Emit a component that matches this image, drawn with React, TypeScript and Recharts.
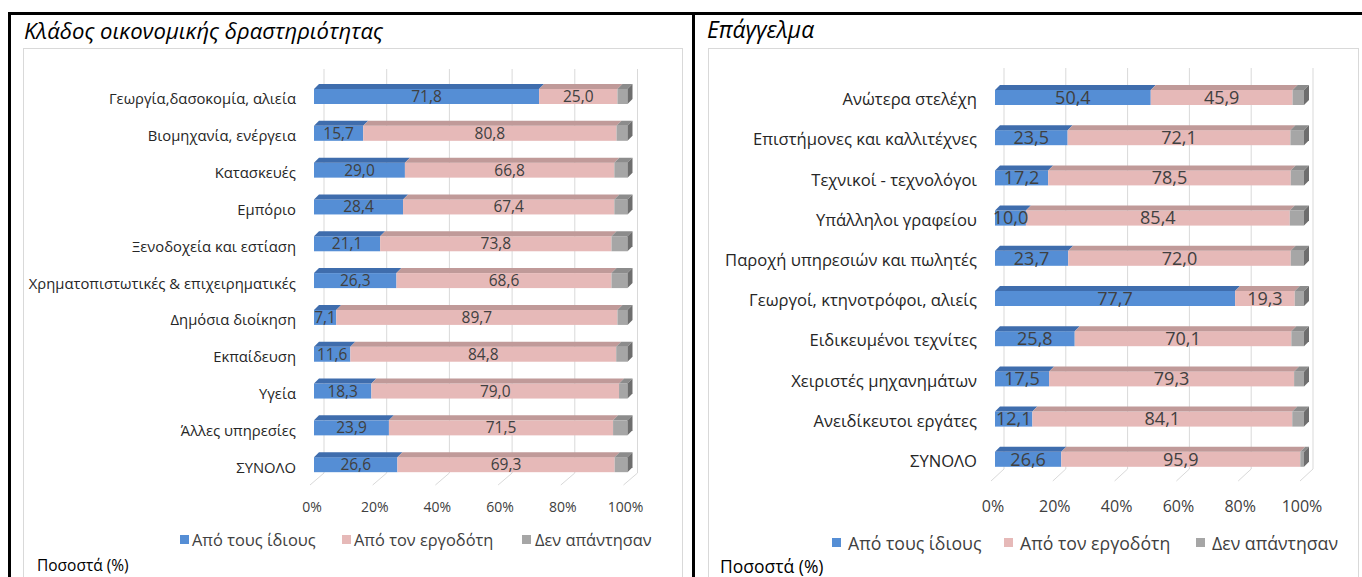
import { BarChart, Bar, XAxis, YAxis, CartesianGrid, LabelList } from "recharts";

const seriesNames = ["Από τους ίδιους", "Από τον εργοδότη", "Δεν απάντησαν"];
const seriesKeys = ["own", "emp", "none"];

const sectorCats = [
  "Γεωργία,δασοκομία, αλιεία",
  "Βιομηχανία, ενέργεια",
  "Κατασκευές",
  "Εμπόριο",
  "Ξενοδοχεία και εστίαση",
  "Χρηματοπιστωτικές & επιχειρηματικές",
  "Δημόσια διοίκηση",
  "Εκπαίδευση",
  "Υγεία",
  "Άλλες υπηρεσίες",
  "ΣΥΝΟΛΟ",
];
const sectorOwn = [71.8, 15.7, 29.0, 28.4, 21.1, 26.3, 7.1, 11.6, 18.3, 23.9, 26.6];
const sectorEmp = [25.0, 80.8, 66.8, 67.4, 73.8, 68.6, 89.7, 84.8, 79.0, 71.5, 69.3];
const sectorNone = [3.2, 3.5, 4.2, 4.2, 5.1, 5.1, 3.2, 3.6, 2.7, 4.6, 4.1];

const jobCats = [
  "Ανώτερα στελέχη",
  "Επιστήμονες και καλλιτέχνες",
  "Τεχνικοί - τεχνολόγοι",
  "Υπάλληλοι γραφείου",
  "Παροχή υπηρεσιών και πωλητές",
  "Γεωργοί, κτηνοτρόφοι, αλιείς",
  "Ειδικευμένοι τεχνίτες",
  "Χειριστές μηχανημάτων",
  "Ανειδίκευτοι εργάτες",
  "ΣΥΝΟΛΟ",
];
const jobOwn = [50.4, 23.5, 17.2, 10.0, 23.7, 77.7, 25.8, 17.5, 12.1, 26.6];
const jobEmp = [45.9, 72.1, 78.5, 85.4, 72.0, 19.3, 70.1, 79.3, 84.1, 95.9];
const jobNone = [3.7, 4.4, 4.3, 4.6, 4.3, 3.0, 4.1, 3.2, 3.8, 1.5];

const xTicks = [0, 0.2, 0.4, 0.6, 0.8, 1];

const FRONT = ["#558ED5", "#E6B9B8", "#A6A6A6"];
const TOP = ["#3F6DAD", "#C09A99", "#8C8C8C"];
const SIDE = "#6E6E6E";
const FONT = "'Open Sans', 'Noto Sans', sans-serif";

const toRows = (cats: string[], own: number[], emp: number[], none: number[]) =>
  cats.map((name, i) => ({ name, own: own[i], emp: emp[i], none: none[i] }));

const fmt = (v: any) => Number(v).toFixed(1).replace(".", ",");

function shape3D(idx: number, last: boolean) {
  return (props: any) => {
    const { x, y, width, height } = props;
    if (!width || width <= 0) return <g />;
    const d = 5;
    return (
      <g>
        <rect x={x} y={y} width={width} height={height} fill={FRONT[idx]} />
        <polygon
          points={`${x},${y} ${x + d},${y - d} ${x + width + d},${y - d} ${x + width},${y}`}
          fill={TOP[idx]}
        />
        {last && (
          <polygon
            points={`${x + width},${y} ${x + width + d},${y - d} ${x + width + d},${y + height - d} ${x + width},${y + height}`}
            fill={SIDE}
          />
        )}
      </g>
    );
  };
}

type PanelProps = {
  rows: any[];
  left: number;
  width: number;
  yAxisWidth: number;
  top: number;
  right: number;
  bottom: number;
  catSize: number;
  labelSize: number;
  tickSize: number;
  tickDy: number;
  back: number;
};

function Panel(p: PanelProps) {
  const gridLine = (g: any) => (
    <g key={g.key}>
      <line x1={g.x1 + p.back} x2={g.x1 + p.back} y1={g.y1 - 9} y2={g.y2 - 10} stroke="#D9D9D9" />
      <line x1={g.x1 - 4} x2={g.x1 + p.back} y1={g.y2 + 2} y2={g.y2 - 10} stroke="#D9D9D9" />
    </g>
  );
  return (
    <div style={{ position: "absolute", left: p.left, top: 48 }}>
      <BarChart
        width={p.width}
        height={529}
        data={p.rows}
        layout="vertical"
        stackOffset="expand"
        barSize={15}
        margin={{ top: p.top, right: p.right, bottom: p.bottom, left: 0 }}
      >
        <CartesianGrid horizontal={false} vertical={gridLine} />
        <XAxis
          type="number"
          domain={[0, 1]}
          ticks={xTicks}
          axisLine={false}
          tickLine={false}
          tickSize={0}
          tickMargin={0}
          height={30}
          tick={(t: any) => (
            <text
              x={t.x - 2}
              y={t.y + p.tickDy}
              textAnchor="middle"
              fontSize={p.tickSize}
              fontFamily={FONT}
              fill="#404040"
            >
              {Math.round(t.payload.value * 100) + "%"}
            </text>
          )}
        />
        <YAxis
          type="category"
          dataKey="name"
          width={p.yAxisWidth}
          axisLine={false}
          tickLine={false}
          tickSize={0}
          tickMargin={0}
          interval={0}
          tick={(t: any) => (
            <text
              x={t.x - 18}
              y={t.y + 8}
              textAnchor="end"
              fontSize={p.catSize}
              fontFamily={FONT}
              fill="#262626"
            >
              {t.payload.value}
            </text>
          )}
        />
        {seriesKeys.map((k, i) => (
          <Bar
            key={k}
            dataKey={k}
            stackId="s"
            name={seriesNames[i]}
            fill={FRONT[i]}
            isAnimationActive={false}
            shape={shape3D(i, i === seriesKeys.length - 1)}
          >
            {i < 2 && (
              <LabelList
                dataKey={k}
                position="center"
                formatter={fmt}
                fill="#404040"
                fontSize={p.labelSize}
                fontFamily={FONT}
              />
            )}
          </Bar>
        ))}
      </BarChart>
    </div>
  );
}

function Legend({ xs, textXs, y, size }: { xs: number[]; textXs: number[]; y: number; size: number }) {
  return (
    <>
      {seriesNames.map((n, i) => (
        <div key={n}>
          <div
            style={{
              position: "absolute",
              left: xs[i],
              top: y - 5,
              width: 9,
              height: 9,
              background: FRONT[i],
            }}
          />
          <div
            style={{
              position: "absolute",
              left: textXs[i],
              top: y - size * 0.7,
              fontSize: size,
              lineHeight: `${size * 1.4}px`,
              fontFamily: FONT,
              color: "#404040",
              whiteSpace: "nowrap",
            }}
          >
            {n}
          </div>
        </div>
      ))}
    </>
  );
}

export default function App() {
  const txt = (left: number, centerY: number, size: number, s: string, italic = false) => (
    <div
      style={{
        position: "absolute",
        left,
        top: centerY - size * 0.7,
        fontSize: size,
        fontStyle: italic ? "italic" : "normal",
        fontFamily: FONT,
        color: "#000",
        whiteSpace: "nowrap",
        lineHeight: `${size * 1.4}px`,
      }}
    >
      {s}
    </div>
  );
  return (
    <div
      style={{
        position: "absolute",
        left: 0,
        top: 0,
        width: 1362,
        height: 577,
        overflow: "hidden",
        background: "#fff",
      }}
    >
      {/* frames */}
      <div style={{ position: "absolute", left: 8, top: 12, width: 1354, height: 3, background: "#000" }} />
      <div style={{ position: "absolute", left: 8, top: 12, width: 3, height: 565, background: "#000" }} />
      <div style={{ position: "absolute", left: 692, top: 12, width: 3, height: 565, background: "#000" }} />
      <div style={{ position: "absolute", left: 23, top: 48, width: 658, height: 540, border: "1px solid #D9D9D9" }} />
      <div style={{ position: "absolute", left: 708, top: 48, width: 649, height: 540, border: "1px solid #D9D9D9" }} />

      {txt(24, 30, 22.1, "Κλάδος οικονομικής δραστηριότητας", true)}
      {txt(707, 30, 22.8, "Επάγγελμα", true)}

      <Panel
        rows={toRows(sectorCats, sectorOwn, sectorEmp, sectorNone)}
        left={23}
        width={658}
        yAxisWidth={291}
        top={30}
        right={53.5}
        bottom={64}
        catSize={14.8}
        labelSize={15.5}
        tickSize={14}
        tickDy={29}
        back={10}
      />
      <Panel
        rows={toRows(jobCats, jobOwn, jobEmp, jobNone)}
        left={708}
        width={649}
        yAxisWidth={287}
        top={29}
        right={53}
        bottom={68}
        catSize={16.6}
        labelSize={18}
        tickSize={16}
        tickDy={33}
        back={9}
      />

      <Legend xs={[180, 342, 522]} textXs={[192, 354, 535]} y={540} size={16.4} />
      <Legend xs={[832, 1004, 1196]} textXs={[848, 1020, 1212]} y={543} size={17.7} />

      {txt(37, 566, 15.5, "Ποσοστά (%)")}
      {txt(720, 566, 17.5, "Ποσοστά (%)")}
    </div>
  );
}
